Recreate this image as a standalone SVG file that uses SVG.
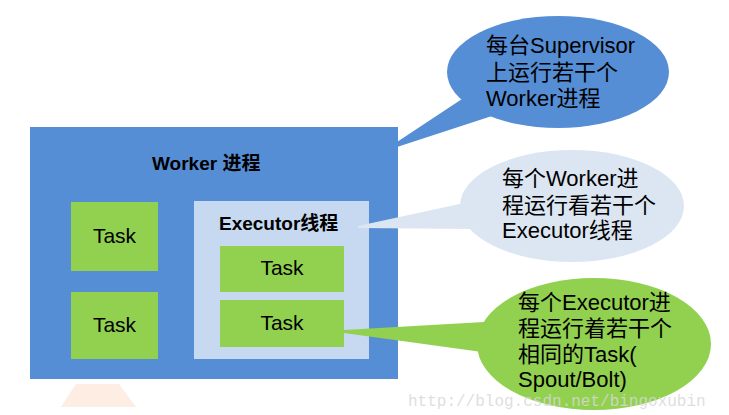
<svg xmlns="http://www.w3.org/2000/svg" width="729" height="415" viewBox="0 0 729 415">
<style>
.bold{font-family:"Liberation Sans","Noto Sans CJK SC",sans-serif;font-weight:bold;font-size:19px;fill:#000}
.task{font-family:"Liberation Sans","Noto Sans CJK SC",sans-serif;font-size:21px;fill:#000;text-anchor:middle}
.note{font-family:"Liberation Sans","Noto Sans CJK SC",sans-serif;font-size:22px;fill:#000}
.green{fill:#92D050}
.blue{fill:#558ED5}
</style>
<rect width="729" height="415" fill="#fff"/>
<polygon points="76,384 119,384 136,407 61,407" fill="#FDEDE3"/>
<g id="worker">
<rect class="blue" x="30" y="127" width="368" height="252"/>
<text class="bold" x="152" y="170">Worker 进程</text>
</g>
<g id="task1">
<rect class="green" x="71" y="202" width="87" height="69"/>
<text class="task" x="114.5" y="243">Task</text>
</g>
<g id="task2">
<rect class="green" x="71" y="292" width="87" height="67"/>
<text class="task" x="114.5" y="332">Task</text>
</g>
<g id="executor">
<rect x="194" y="201" width="175" height="158" fill="#C6D9F1"/>
<text class="bold" x="219" y="230">Executor线程</text>
</g>
<g id="task3">
<rect class="green" x="220" y="246" width="124" height="46"/>
<text class="task" x="282" y="275">Task</text>
</g>
<g id="task4">
<rect class="green" x="220" y="300" width="124" height="47"/>
<text class="task" x="282" y="330">Task</text>
</g>
<g id="callout1">
<ellipse class="blue" cx="558" cy="72" rx="111" ry="56"/>
<text class="note" x="486" y="53">每台Supervisor</text>
<text class="note" x="486" y="80">上运行若干个</text>
<text class="note" x="486" y="106">Worker进程</text>
</g>
<g id="callout2">
<ellipse cx="572" cy="206" rx="112" ry="56" fill="#DCE6F2"/>
<text class="note" x="502" y="186">每个Worker进</text>
<text class="note" x="502" y="213">程运行看若干个</text>
<text class="note" x="502" y="238">Executor线程</text>
</g>
<g id="callout3">
<ellipse class="green" cx="594" cy="344" rx="117" ry="66"/>
<text class="note" x="518" y="310">每个Executor进</text>
<text class="note" x="518" y="336">程运行着若干个</text>
<text class="note" x="518" y="362">相同的Task(</text>
<text class="note" x="518" y="387">Spout/Bolt)</text>
</g>
<g id="connectors">
<polygon class="blue" points="465,97 397,142 397,147 495,115"/>
<polygon points="464,203 358,226 358,228 474,229" fill="#DCE6F2"/>
<polygon class="green" points="344,330 344,333 482,352 484,322"/>
</g>
<text x="408" y="406" font-family="Liberation Mono, monospace" font-size="16" fill="#d8d8d8" fill-opacity="0.85">http://blog.csdn.net/bingoxubin</text>
</svg>
